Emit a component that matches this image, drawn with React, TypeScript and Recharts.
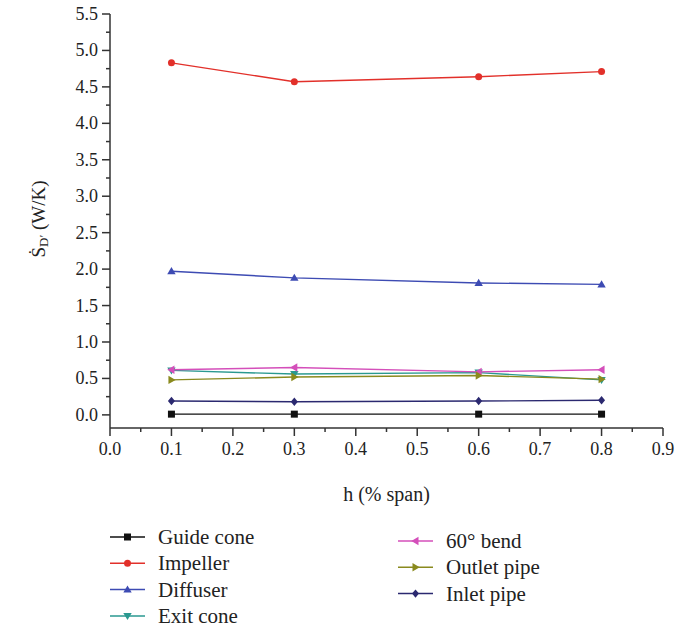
import { LineChart, Line, XAxis, YAxis } from "recharts";

// h (% span) positions
const spans = [0.1, 0.3, 0.6, 0.8];

// entropy production per component (W/K)
const guideCone = [0.01, 0.01, 0.01, 0.01];
const impeller = [4.83, 4.57, 4.64, 4.71];
const diffuser = [1.97, 1.88, 1.81, 1.79];
const exitCone = [0.61, 0.56, 0.58, 0.48];
const bend60 = [0.62, 0.65, 0.59, 0.62];
const outletPipe = [0.48, 0.52, 0.54, 0.49];
const inletPipe = [0.19, 0.18, 0.19, 0.2];

const xTicks = [0, 0.05, 0.1, 0.15, 0.2, 0.25, 0.3, 0.35, 0.4, 0.45, 0.5, 0.55, 0.6, 0.65, 0.7, 0.75, 0.8, 0.85, 0.9];
const yTicks = [0, 0.25, 0.5, 0.75, 1, 1.25, 1.5, 1.75, 2, 2.25, 2.5, 2.75, 3, 3.25, 3.5, 3.75, 4, 4.25, 4.5, 4.75, 5, 5.25, 5.5];

type Shape = "square" | "circle" | "up" | "down" | "left" | "right" | "diamond";

const series: { key: string; name: string; color: string; shape: Shape; values: number[] }[] = [
  { key: "guide", name: "Guide cone", color: "#111111", shape: "square", values: guideCone },
  { key: "impeller", name: "Impeller", color: "#e2302a", shape: "circle", values: impeller },
  { key: "diffuser", name: "Diffuser", color: "#3d4bb3", shape: "up", values: diffuser },
  { key: "exit", name: "Exit cone", color: "#2a9990", shape: "down", values: exitCone },
  { key: "bend", name: "60° bend", color: "#d44fba", shape: "left", values: bend60 },
  { key: "outlet", name: "Outlet pipe", color: "#8a8a1e", shape: "right", values: outletPipe },
  { key: "inlet", name: "Inlet pipe", color: "#2b2970", shape: "diamond", values: inletPipe },
];

const data = spans.map((h, i) => {
  const row: Record<string, number> = { h };
  series.forEach((s) => (row[s.key] = s.values[i]));
  return row;
});

const FONT = "'Liberation Serif', 'DejaVu Serif', serif";
const AXIS = "#333333";

function Marker({ cx, cy, shape, color }: { cx: number; cy: number; shape: Shape; color: string }) {
  const r = 4.2;
  switch (shape) {
    case "square":
      return <rect x={cx - 3.5} y={cy - 3.5} width={7} height={7} fill={color} />;
    case "circle":
      return <circle cx={cx} cy={cy} r={3.5} fill={color} />;
    case "up":
      return <polygon points={`${cx},${cy - r} ${cx + r},${cy + 3} ${cx - r},${cy + 3}`} fill={color} />;
    case "down":
      return <polygon points={`${cx},${cy + r} ${cx + r},${cy - 3} ${cx - r},${cy - 3}`} fill={color} />;
    case "left":
      return <polygon points={`${cx - r},${cy} ${cx + 3},${cy - r} ${cx + 3},${cy + r}`} fill={color} />;
    case "right":
      return <polygon points={`${cx + r},${cy} ${cx - 3},${cy - r} ${cx - 3},${cy + r}`} fill={color} />;
    default:
      return <polygon points={`${cx},${cy - r} ${cx + 3.5},${cy} ${cx},${cy + r} ${cx - 3.5},${cy}`} fill={color} />;
  }
}

const isMajor = (v: number) => Math.abs(v * 10 - Math.round(v * 10)) < 1e-6;
const isHalf = (v: number) => Math.abs(v * 2 - Math.round(v * 2)) < 1e-6;

function XTick(props: any) {
  const { x, y, payload } = props;
  const major = isMajor(payload.value);
  return (
    <g>
      <line x1={x} x2={x} y1={y} y2={y + (major ? 8 : 4)} stroke={AXIS} strokeWidth={1.5} />
      {major && (
        <text x={x} y={y + 27} textAnchor="middle" fontFamily={FONT} fontSize={18} fill="#222">
          {payload.value.toFixed(1)}
        </text>
      )}
    </g>
  );
}

function YTick(props: any) {
  const { x, y, payload } = props;
  const major = isHalf(payload.value);
  return (
    <g>
      <line x1={x} x2={x - (major ? 8 : 4)} y1={y} y2={y} stroke={AXIS} strokeWidth={1.5} />
      {major && (
        <text x={x - 12} y={y + 6} textAnchor="end" fontFamily={FONT} fontSize={18} fill="#222">
          {payload.value.toFixed(1)}
        </text>
      )}
    </g>
  );
}

function YLabel({ viewBox }: any) {
  const cx = viewBox.x + 38;
  const cy = viewBox.y + viewBox.height / 2 - 2;
  return (
    <text
      x={cx}
      y={cy}
      transform={`rotate(-90, ${cx}, ${cy})`}
      textAnchor="middle"
      dominantBaseline="central"
      fontFamily={FONT}
      fontSize={19}
      fill="#222"
    >
      Ṡ
      <tspan dy={5} fontSize={13}>
        D′
      </tspan>
      <tspan dy={-5}> (W/K)</tspan>
    </text>
  );
}

function XLabel({ viewBox }: any) {
  return (
    <text
      x={viewBox.x + viewBox.width / 2}
      y={viewBox.y + 73}
      textAnchor="middle"
      fontFamily={FONT}
      fontSize={20}
      fill="#222"
    >
      h (% span)
    </text>
  );
}

function ChartLegend() {
  const cols = [
    { x: 110, top: 537, items: series.slice(0, 4) },
    { x: 398, top: 541, items: series.slice(4) },
  ];
  return (
    <svg width={679} height={631} style={{ position: "absolute", left: 0, top: 0, pointerEvents: "none" }}>
      {cols.map((c) =>
        c.items.map((s, i) => {
          const y = c.top + i * 26.3;
          return (
            <g key={s.key}>
              <line x1={c.x} x2={c.x + 35} y1={y} y2={y} stroke={s.color} strokeWidth={1.5} />
              <Marker cx={c.x + 17.5} cy={y} shape={s.shape} color={s.color} />
              <text x={c.x + 48} y={y + 7} fontFamily={FONT} fontSize={21} fill="#222">
                {s.name}
              </text>
            </g>
          );
        })
      )}
    </svg>
  );
}

export default function App() {
  return (
    <div style={{ position: "absolute", left: 0, top: 0, width: 679, height: 631, background: "#fff" }}>
      <LineChart width={679} height={515} data={data} margin={{ top: 14, right: 16, left: 0, bottom: 57 }}>
        <XAxis
          dataKey="h"
          type="number"
          domain={[0, 0.9]}
          ticks={xTicks}
          interval={0}
          tickSize={0}
          tickMargin={0}
          height={30}
          tick={<XTick />}
          axisLine={{ stroke: AXIS, strokeWidth: 1.5 }}
          tickLine={false}
          label={<XLabel />}
        />
        <XAxis
          xAxisId="top"
          dataKey="h"
          type="number"
          domain={[0, 0.9]}
          orientation="top"
          height={0}
          tick={false}
          tickLine={false}
          axisLine={{ stroke: AXIS, strokeWidth: 1.5 }}
        />
        <YAxis
          type="number"
          domain={[-0.18, 5.5]}
          ticks={yTicks}
          interval={0}
          tickSize={0}
          tickMargin={0}
          width={110}
          tick={<YTick />}
          axisLine={{ stroke: AXIS, strokeWidth: 1.5 }}
          tickLine={false}
          label={<YLabel />}
        />
        <YAxis
          yAxisId="right"
          orientation="right"
          domain={[-0.18, 5.5]}
          width={0}
          tick={false}
          tickLine={false}
          axisLine={{ stroke: AXIS, strokeWidth: 1.5 }}
        />
        {series.map((s) => (
          <Line
            key={s.key}
            dataKey={s.key}
            name={s.name}
            stroke={s.color}
            strokeWidth={1.4}
            isAnimationActive={false}
            dot={(p: any) => <Marker key={`${s.key}-${p.index}`} cx={p.cx} cy={p.cy} shape={s.shape} color={s.color} />}
            activeDot={false}
          />
        ))}
      </LineChart>
      <ChartLegend />
    </div>
  );
}
